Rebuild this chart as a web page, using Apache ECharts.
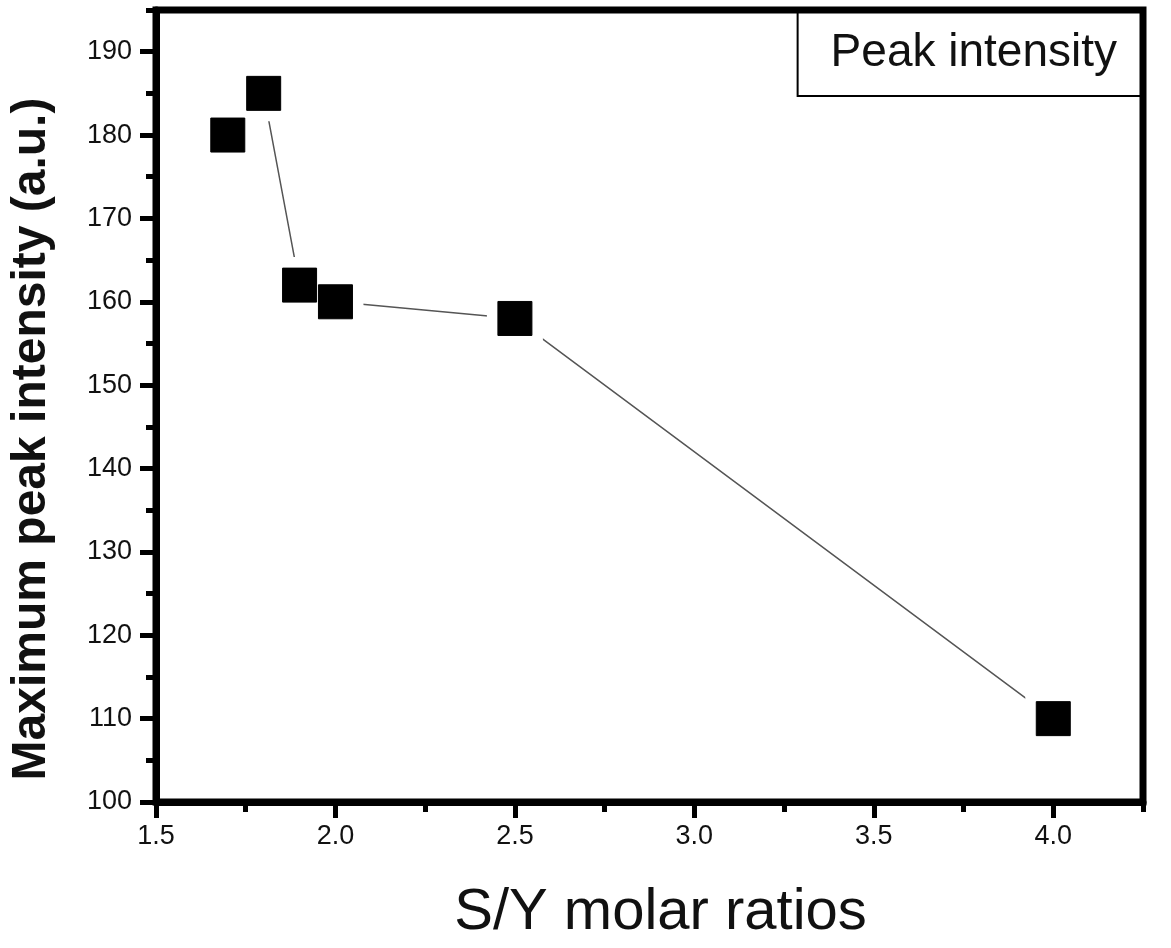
<!DOCTYPE html>
<html>
<head>
<meta charset="utf-8">
<title>Peak intensity vs S/Y molar ratio</title>
<script src="https://cdn.jsdelivr.net/npm/echarts@6/dist/echarts.min.js"></script>
<style>
  html, body { margin: 0; padding: 0; background: #fff; }
  #chart { width: 1171px; height: 948px; }
</style>
</head>
<body>
<div id="chart"></div>
<script>
// S/Y molar ratio vs. maximum peak intensity
const ratios = [1.7, 1.8, 1.9, 2.0, 2.5, 4.0]
const peakIntensity = [180, 185, 162, 160, 158, 110]
const seriesName = 'Peak intensity'

const xRange = [1.5, 4.25]
const yRange = [100, 195]

const points = ratios.map((r, i) => [r, peakIntensity[i]])

const FONT = '"Liberation Sans", Arial, Helvetica, sans-serif'
const INK = '#111'

function mainAxis(range, interval, extra) {
  return Object.assign({
    type: 'value',
    min: range[0],
    max: range[1],
    interval: interval,
    axisLine: { show: true, onZero: false, lineStyle: { color: '#000', width: 7 } },
    axisTick: { show: true, inside: false, length: 16, lineStyle: { color: '#000', width: 5 } },
    splitLine: { show: false }
  }, extra)
}

// second axis on the same side, only for the short (minor) ticks
function minorAxis(range, interval, position) {
  return {
    type: 'value',
    position: position,
    min: range[0],
    max: range[1],
    interval: interval,
    axisLine: { show: false, onZero: false },
    axisTick: { show: true, inside: false, length: 10, lineStyle: { color: '#000', width: 5 } },
    axisLabel: { show: false },
    splitLine: { show: false }
  }
}

const chart = echarts.init(document.getElementById('chart'), null, { renderer: 'canvas' })

chart.setOption({
  backgroundColor: '#fff',
  animation: false,
  grid: {
    left: 155, right: 28, top: 10, bottom: 146,
    show: true, borderColor: '#000', borderWidth: 7, backgroundColor: 'transparent'
  },
  legend: {
    data: [seriesName],
    right: 26, top: 10,
    icon: 'none', itemWidth: 0, itemHeight: 0,
    borderColor: '#000', borderWidth: 2,
    padding: [20, 28, 20, 28],
    textStyle: { fontSize: 46, color: INK, fontFamily: FONT },
    selectedMode: false
  },
  xAxis: [
    mainAxis(xRange, 0.5, {
      position: 'bottom',
      name: 'S/Y molar ratios',
      nameLocation: 'middle',
      nameGap: 82,
      nameTextStyle: { fontSize: 58, color: INK, fontFamily: FONT, padding: [0, 0, 0, 22] },
      axisLabel: {
        show: true, showMaxLabel: false, margin: 21, fontSize: 27, color: INK, fontFamily: FONT,
        formatter: v => v.toFixed(1)
      }
    }),
    minorAxis(xRange, 0.25, 'bottom')
  ],
  yAxis: [
    mainAxis(yRange, 10, {
      position: 'left',
      name: 'Maximum peak intensity (a.u.)',
      nameLocation: 'middle',
      nameGap: 100,
      nameTextStyle: { fontSize: 48, fontWeight: 'bold', color: INK, fontFamily: FONT, padding: [0, 66, 0, 0] },
      axisLabel: { show: true, showMaxLabel: false, margin: 24, fontSize: 27, color: INK, fontFamily: FONT }
    }),
    minorAxis(yRange, 5, 'left')
  ],
  series: [
    {
      name: 'connector',
      type: 'line',
      data: points,
      symbol: 'none',
      lineStyle: { color: '#555', width: 1.5 },
      z: 1,
      silent: true
    },
    {
      // white halo so the connecting line stops short of each marker
      name: 'gap',
      type: 'scatter',
      data: points,
      symbol: 'rect',
      symbolSize: 56,
      itemStyle: { color: '#fff', opacity: 1 },
      z: 2,
      silent: true
    },
    {
      name: seriesName,
      type: 'scatter',
      data: points,
      symbol: 'rect',
      symbolSize: 34,
      itemStyle: { color: '#000', opacity: 1, borderColor: '#000', borderWidth: 1 },
      z: 3
    }
  ]
})

window.addEventListener('resize', () => chart.resize())
</script>
</body>
</html>
